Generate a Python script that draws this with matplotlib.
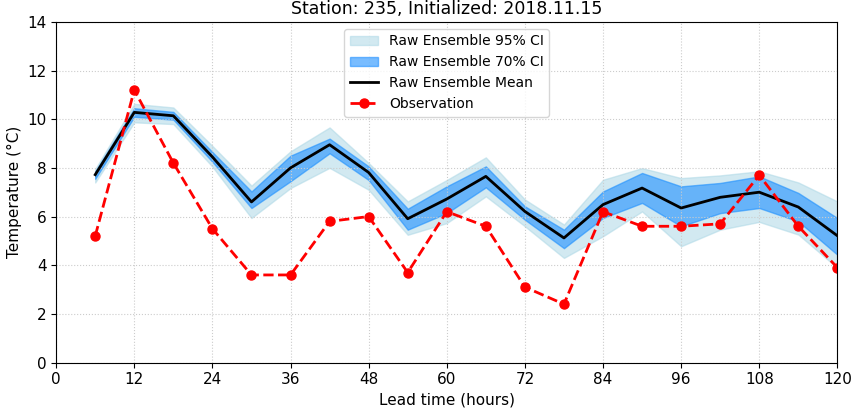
import numpy as np
import matplotlib
matplotlib.use('Agg')
from matplotlib import pyplot as plt

# lead times and ensemble / observation values (deg C)
lead = [6, 12, 18, 24, 30, 36, 42, 48, 54, 60, 66, 72, 78, 84, 90, 96, 102, 108, 114, 120]
ens_mean = [7.72, 10.28, 10.14, 8.45, 6.6, 8.0, 8.95, 7.81, 5.91, 6.72, 7.65, 6.21, 5.12, 6.49, 7.17, 6.35, 6.79, 7.0, 6.39, 5.21]
ci70_lo = [7.55, 10.1, 9.98, 8.25, 6.35, 7.45, 8.6, 7.5, 5.46, 6.14, 7.2, 5.87, 4.7, 5.94, 6.56, 5.6, 6.14, 6.35, 5.8, 4.43]
ci70_hi = [7.85, 10.45, 10.3, 8.65, 7.03, 8.5, 9.2, 8.06, 6.32, 7.24, 8.06, 6.42, 5.46, 7.03, 7.79, 7.24, 7.38, 7.65, 6.97, 5.94]
ci95_lo = [7.4, 9.87, 9.8, 8.05, 5.94, 7.17, 8.0, 7.1, 5.25, 5.73, 6.83, 5.6, 4.3, 5.19, 6.21, 4.78, 5.46, 5.78, 5.26, 3.89]
ci95_hi = [7.95, 10.63, 10.48, 8.9, 7.27, 8.68, 9.66, 8.2, 6.62, 7.5, 8.43, 6.7, 5.67, 7.51, 7.99, 7.58, 7.69, 7.86, 7.4, 6.62]
obs = [5.2, 11.2, 8.2, 5.5, 3.6, 3.6, 5.8, 6.0, 3.7, 6.2, 5.6, 3.1, 2.4, 6.2, 5.6, 5.6, 5.7, 7.7, 5.6, 3.9]

fig, ax = plt.subplots(figsize=(8.51, 4.12), dpi=100)
fig.subplots_adjust(left=0.066, right=0.984, top=0.947, bottom=0.12)

ax.fill_between(lead, ci95_lo, ci95_hi, color='lightblue', alpha=0.55, label='Raw Ensemble 95% CI')
ax.fill_between(lead, ci70_lo, ci70_hi, color='#1E90FF', alpha=0.6, label='Raw Ensemble 70% CI')
ax.plot(lead, ens_mean, color='black', lw=2, label='Raw Ensemble Mean')
ax.plot(lead, obs, color='red', ls='--', lw=2, marker='o', markersize=6.5, label='Observation')

ax.set_xlim(0, 120)
ax.set_ylim(0, 14)
ax.set_xticks(np.arange(0, 121, 12))
ax.set_yticks(np.arange(0, 15, 2))
ax.grid(ls=':', color='#cccccc')
ax.set_xlabel('Lead time (hours)', fontsize=11)
ax.set_ylabel('Temperature (°C)', fontsize=11)
ax.set_title('Station: 235, Initialized: 2018.11.15', fontsize=12.5)
ax.tick_params(labelsize=11)
ax.legend(loc='upper center', fontsize=10)

plt.savefig('out.png')
